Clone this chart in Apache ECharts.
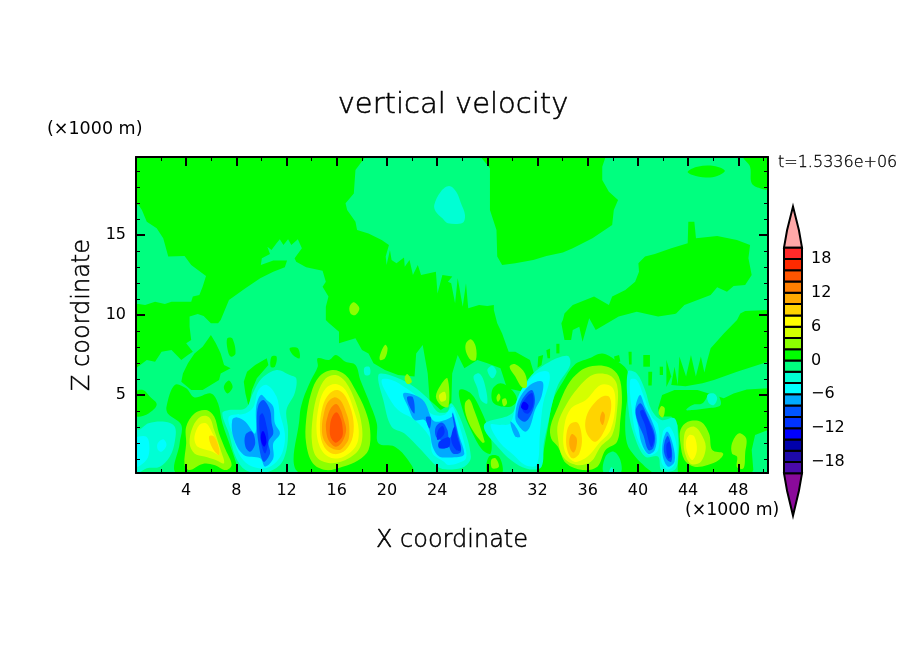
<!DOCTYPE html>
<html>
<head>
<meta charset="utf-8">
<script src="https://cdn.jsdelivr.net/npm/echarts@6/dist/echarts.min.js"></script>
<style>
html, body { margin: 0; background: #fff; }
#main { width: 904px; height: 654px; }
</style>
</head>
<body>
<div id="main"></div>
<script>
// colour bands of the contour plot
const bandLower = [-20, -18, -16, -14, -12, -10, -8, -6, -4, -2, 0, 2, 4, 6, 8, 10, 12, 14, 16, 18]
const bandColors = ['#4a0aaa', '#1e0aaa', '#0000aa', '#0000ff', '#0033ff', '#0055ff', '#00aaff', '#00ffff', '#00ffd4', '#00ff7f',
    '#00ff00', '#8cff00', '#d4ff00', '#ffff00', '#ffd400', '#ffaa00', '#ff7f00', '#ff5500', '#ff2a00', '#ff2a2a']
const overColor = '#ffa8a8'
const underColor = '#8a0a9a'
const barTicks = [-18, -12, -6, 0, 6, 12, 18]
const tipUp = [[0, 20], [0.17, 23.1], [0.5, 27.3], [0.83, 23.1], [1, 20]]
const tipDown = [[0, -20], [0.17, -23.1], [0.5, -27.5], [0.83, -23.1], [1, -20]]

const xMajor = [4, 8, 12, 16, 20, 24, 28, 32, 36, 40, 44, 48]
const xMinor = [2, 6, 10, 14, 18, 22, 26, 30, 34, 38, 42, 46, 50]
const zMajor = [5, 10, 15]
const zMinor = [1, 2, 3, 4, 6, 7, 8, 9, 11, 12, 13, 14, 16, 17, 18, 19]

// contour outlines, [x km, z km]
const background = [[0, 0.125], [50.37, 0.125], [50.37, 19.875], [0, 19.875]]
const springMain = [[18.27, 19.875], [50.37, 19.875], [50.37, 0.125], [0, 0.125], [0, 6.67], [0.86, 7.19], [1.52, 7.08], [2.04, 7.71], [2.83, 7.81], [3.61, 7.19], [4.14, 7.5], [4.53, 7.71], [4, 8.23], [4.4, 8.44], [4.27, 9.27], [4.27, 9.9], [4.92, 10.06], [5.39, 9.94], [5.97, 9.48], [6.54, 9.48], [6.75, 9.69], [7.41, 10.94], [8.72, 11.67], [9.9, 12.29], [10.94, 12.71], [11.86, 12.98], [12.04, 13.4], [10.94, 13.4], [9.95, 13.13], [10.03, 13.54], [10.68, 13.81], [10.47, 14.27], [10.8, 14.06], [11.2, 14.48], [11.46, 14.73], [11.75, 14.38], [12.12, 14.73], [12.38, 14.38], [12.9, 14.73], [13.22, 14.17], [12.64, 13.54], [12.77, 13.33], [13.56, 12.98], [14.87, 12.77], [15.13, 12.08], [14.87, 11.77], [15.34, 11.15], [15.13, 10.52], [15.13, 9.69], [15.39, 9.48], [16.18, 8.96], [16.18, 8.23], [17.49, 8.54], [18.01, 7.81], [18.53, 7.6], [18.93, 6.98], [19.84, 6.56], [20.89, 6.25], [22.2, 6.15], [22.33, 7.6], [22.85, 8.13], [23.25, 6.35], [23.4, 4.69], [24.29, 4.06], [25.13, 4.48], [25.2, 6.35], [25.64, 7.5], [26.17, 6.67], [27.21, 7.19], [28, 6.98], [29.05, 6.67], [29.57, 5.42], [30.88, 5.21], [31.72, 6.35], [31.4, 7.19], [30.23, 7.71], [29.7, 7.71], [29.18, 8.85], [28.79, 9.48], [28.52, 10.31], [28.52, 10.63], [28, 10.56], [27.34, 10.63], [26.48, 10.42], [26.3, 11.98], [26.04, 10.52], [25.64, 12.29], [25.43, 10.73], [25.12, 11.98], [24.86, 12.08], [25.21, 12.4], [24.42, 12.5], [24.03, 11.35], [23.9, 12.71], [22.72, 12.5], [22.46, 13.13], [22.07, 12.5], [21.8, 13.44], [21.42, 13.02], [21.36, 13.6], [20.76, 13.23], [20.37, 13.44], [20.24, 14.06], [19.97, 13.13], [19.9, 13.65], [20.16, 14.38], [19.58, 14.69], [18.53, 15.1], [17.62, 15.31], [17.49, 15.83], [16.83, 16.56], [16.7, 16.98], [17.36, 17.6], [17.49, 19.06]]
const springLeft = [[0, 16.9], [0.21, 16.88], [0.47, 16.56], [0.86, 15.83], [1.65, 15.42], [2.17, 14.79], [2.57, 13.65], [3.87, 13.69], [4.4, 13.13], [5.58, 12.44], [5.31, 11.77], [5.05, 11.25], [4.53, 11.15], [4.4, 10.83], [2.83, 10.83], [2.3, 10.69], [1.52, 10.83], [0.73, 10.63], [0.21, 10.69], [0, 10.69]]
const greenTop = [[27.48, 19.875], [28.21, 19.17], [28.21, 16.56], [28.73, 15.31], [28.79, 13.65], [29.18, 13.13], [30.23, 13.23], [31.66, 13.44], [32.71, 13.69], [34.02, 13.9], [34.81, 14.17], [36.38, 14.79], [37.95, 15.63], [38.08, 16.56], [38.42, 17.19], [37.69, 17.71], [37.16, 18.44], [37.16, 19.27], [37.42, 19.875]]
const greenCorner = [[48.42, 19.875], [48.94, 19.27], [49.07, 18.23], [49.73, 17.92], [50.37, 17.9], [50.37, 19.875]]
const greenOval = [[43.97, 18.96], [44.75, 19.27], [46.06, 19.31], [46.93, 19.02], [46.32, 18.69], [45.41, 18.6], [44.36, 18.75]]
const greenRight = [[34.02, 9.69], [34.15, 10.1], [34.81, 10.63], [35.46, 10.83], [36.51, 11.15], [37.69, 10.63], [37.95, 11.15], [39, 11.56], [39.78, 12.08], [40.09, 12.71], [40.04, 13.23], [40.57, 13.65], [41.35, 13.81], [42.66, 14.17], [43.97, 14.48], [44.02, 15.83], [44.5, 15.83], [44.63, 14.79], [46.32, 14.94], [47.89, 14.69], [48.94, 14.38], [48.81, 13.54], [49.07, 12.5], [48.55, 11.88], [47.63, 11.81], [47.1, 11.46], [46.32, 11.73], [45.8, 11.25], [43.71, 10.63], [43.05, 10.1], [42.92, 10.06], [41.61, 9.9], [39.91, 10.21], [38.47, 9.9], [36.64, 9.06], [36.12, 9.79], [35.59, 8.33], [35.33, 9.27], [34.81, 9.06], [34.68, 8.44], [34.15, 8.44], [33.9, 9.48]]
const greenEdge = [[50.37, 10.31], [48.55, 10.25], [48.16, 10.1], [47.9, 9.69], [46.85, 8.85], [45.8, 7.92], [45.54, 7.19], [45.3, 6.4], [45.02, 7.4], [44.62, 6.15], [44.23, 7.5], [43.84, 6.15], [43.31, 7.4], [43.18, 5.63], [42.92, 6.77], [42.66, 5.63], [43.8, 5.55], [45.15, 5.73], [46.06, 5.94], [47.9, 6.46], [50.37, 7.08]]
const greenLower = [[41.61, 4.17], [41.93, 5], [42.92, 5.31], [44.75, 5.31], [46.85, 4.79], [47.63, 5.1], [48.68, 5.35], [50.37, 5.42], [50.37, 2.81], [49.34, 2.5], [49.07, 1.56], [49.2, 0.31], [49.07, 0.125], [43.18, 0.125], [43.18, 0.52], [43.31, 1.98], [43.18, 3.13], [42.66, 3.65], [41.74, 3.65]]
const ringA = [[3.22, 0.125], [3.48, 1.98], [3.61, 3.13], [2.57, 3.81], [2.43, 4.27], [3.09, 5.63], [4, 5.42], [4.66, 4.85], [5.97, 5.1], [6.54, 4.48], [6.88, 3.23], [7.54, 1.77], [8.06, 0.52], [8.06, 0.125]]
const patchEdge = [[0, 5.2], [0.6, 5.3], [1.1, 4.9], [1.65, 4.4], [1, 3.85], [0, 3.7]]
const patchWiggle = [[3.74, 6.35], [4.14, 6.98], [4.66, 7.6], [5.31, 8.02], [5.97, 8.75], [6.36, 8.23], [6.75, 7.6], [7.02, 6.88], [7.54, 6.67], [6.75, 6.35], [6.62, 5.94], [5.31, 5.31], [4.4, 5.31], [3.61, 5.83]]
const patchStripe = [[7.28, 8.54], [7.67, 8.54], [7.93, 7.6], [7.54, 7.4], [7.28, 7.92]]
const patchDot = [[7, 5.5], [7.4, 5.9], [7.7, 5.5], [7.3, 5.1]]
const patchGully = [[8.59, 5.83], [8.85, 6.46], [9.5, 6.88], [10.42, 7.29], [10.55, 6.88], [9.63, 6.04], [9.24, 5.31], [8.98, 4.27], [8.72, 5.1]]
const patchSmallA = [[12.25, 7.92], [12.9, 7.92], [13.04, 7.29], [12.51, 7.5]]
const patchSmallB = [[10.81, 7.4], [11.2, 7.4], [11.07, 6.77], [10.73, 6.77]]
const ringB = [[13.04, 0.125], [13.04, 3.65], [13.3, 4.69], [13.95, 5.94], [14.48, 6.77], [14.48, 7.29], [15.39, 7.19], [15.92, 7.5], [16.7, 7.08], [17.49, 6.88], [17.88, 5.94], [18.53, 4.69], [19.19, 3.23], [19.32, 1.98], [20.63, 1.77], [21.68, 0.94], [22.07, 0.125]]
const ringC = [[32.19, 0.125], [32.45, 1.35], [32.84, 3.02], [33.24, 4.69], [34.02, 5.83], [34.94, 6.88], [36.12, 7.29], [37.16, 7.6], [38.21, 7.19], [39.13, 6.56], [39.26, 5.52], [39, 3.65], [39.13, 1.98], [39.78, 1.15], [40.57, 0.52], [41.09, 0.125]]
const ringD = [[25.77, 5.31], [26.69, 5.1], [27.48, 4.06], [28.26, 2.4], [28.26, 1.35], [27.61, 1.56], [26.69, 2.81], [26.04, 4.06]]
const ringE = [[28, 0.125], [28.13, 1.15], [28.92, 1.15], [29.18, 0.125]]
const ringF = [[28.39, 5.31], [29.05, 5.73], [29.96, 5.31], [30.36, 4.69], [29.83, 4.27], [28.52, 4.48]]
const spikes = [
    [[32.06, 7.4], [32.45, 7.5], [32.32, 6.88], [32, 6.7]],
    [[32.7, 7.8], [33, 7.9], [33, 7.3], [32.8, 7.3]],
    [[33.5, 8.2], [33.75, 8.2], [33.75, 7.6], [33.5, 7.6]],
    [[38.1, 7.4], [38.5, 7.5], [38.6, 7.1], [38.2, 7]],
    [[39.25, 7.7], [39.5, 7.7], [39.5, 6.9], [39.3, 6.9]],
    [[40.43, 7.5], [40.96, 7.5], [40.96, 6.77], [40.43, 6.77]],
    [[40.83, 6.46], [41.14, 6.46], [41.1, 5.6], [40.83, 5.6]],
    [[41.74, 6.77], [42, 6.77], [42, 6.25], [41.74, 6.25]],
    [[42.27, 7.2], [42.66, 6.15], [42.27, 5.5]]
]
const springInC = [[37.29, 0.125], [37.42, 1.15], [38.08, 1.46], [38.6, 0.94], [38.6, 0.125]]
const springPatch = [[43.84, 4.06], [44.36, 4.38], [45.15, 4.48], [45.8, 5.21], [46.32, 5.1], [46.59, 4.38], [45.54, 4.17], [44.36, 4.06]]

// level -3 (aqua) regions
const aquaTop = [[23.77, 16.88], [24.29, 17.71], [24.95, 18.06], [25.52, 17.71], [25.9, 16.98], [26.22, 16.25], [26.04, 15.77], [24.86, 15.73], [24.42, 16.04], [23.9, 16.46]]
const aquaDots = [
    [[45.54, 5], [46.06, 5.1], [46.32, 4.79], [46.06, 4.38], [45.67, 4.48]],
    [[28, 6.56], [28.39, 6.83], [28.73, 6.46], [28.39, 6.04]],
    [[26.9, 6.15], [27.35, 6.35], [27.74, 5.83], [28, 4.48], [27.48, 4.69], [27.21, 5.42]],
    [[18.2, 6.7], [18.6, 6.75], [18.65, 6.3], [18.25, 6.25]],
    [[37.7, 0.125], [37.9, 0.5], [38.1, 0.125]]
]
const aquaA = [[0, 0.125], [0, 3], [0.21, 2.81], [1, 3.23], [2.3, 3.33], [3.09, 3.02], [3.09, 2.08], [2.7, 1.15], [1.91, 0.52], [0.86, 0.42], [0.21, 0.125]]
const aquaB = [[6.88, 3.85], [7.41, 4.06], [8.72, 4.17], [9.37, 5.21], [10.03, 6.04], [11.2, 6.56], [12.25, 6.25], [12.77, 6.04], [12.64, 5.1], [11.99, 4.06], [12.12, 2.81], [11.99, 1.56], [11.47, 0.63], [10.16, 0.125], [8.72, 0.31], [7.93, 1.15], [7.41, 2.6]]
const aquaC = [[19.32, 6.25], [20.2, 6.25], [21.94, 5.63], [23.25, 4.79], [24.03, 3.96], [24.82, 3.96], [25.12, 4.48], [25.9, 3.44], [26.69, 1.15], [26.17, 0.52], [24.86, 0.35], [24.03, 0.52], [22.73, 1.56], [21.4, 2.6], [20.37, 3.02], [19.71, 4.69]]
const aquaD = [[27.74, 3.13], [29.96, 3.85], [30.62, 5.1], [31.53, 6.25], [32.97, 7.08], [34.41, 7.44], [34.6, 6.88], [33.63, 5.63], [33.18, 4.48], [32.84, 3.23], [32.5, 1.98], [32.32, 0.52], [31.4, 0.35], [30.23, 0.73], [29.05, 1.56]]
const aquaE = [[39.2, 6.46], [39.91, 6.35], [40.57, 5.31], [41.09, 4.06], [41.87, 3.44], [42.92, 3.54], [43.18, 2.6], [43.18, 0.94], [42.92, 0.31], [41.87, 0.31], [41.61, 1.15], [40.57, 1.15], [39.65, 2.6], [39.26, 4.06]]

// level -5 (cyan) regions
const cyanA = [[0, 2.3], [0.21, 2.4], [0.8, 2.4], [1.05, 1.98], [0.95, 1.1], [0.34, 0.6], [0, 0.55]]
const cyanDot = [[1.73, 1.98], [2.17, 2.23], [2.43, 1.88], [2.04, 1.46], [1.73, 1.6]]
const cyanB = [[7.41, 3.65], [8.72, 3.85], [9.37, 4.27], [9.76, 5.31], [10.42, 5.63], [11.2, 4.9], [11.47, 3.85], [11.86, 2.6], [11.73, 1.56], [11.2, 0.83], [10.29, 0.42], [9, 0.63], [8.19, 1.35], [7.67, 2.6]]
const cyanC = [[19.58, 5.94], [20.37, 5.94], [21.55, 5.42], [22.72, 4.69], [23.51, 3.85], [24.55, 3.75], [25.2, 4.27], [25.38, 4.06], [26.17, 1.98], [26.3, 1.04], [25.64, 0.73], [24.86, 0.63], [24.55, 0.83], [23.64, 1.35], [23.38, 2.4], [22.2, 3.44], [20.89, 4.06], [19.97, 5.1]]
const cyanD = [[28.26, 3.13], [29.05, 3.13], [29.83, 3.23], [30.36, 4.69], [30.88, 5.52], [31.93, 6.35], [32.84, 6.46], [32.97, 5.94], [32.45, 4.48], [32.19, 2.6], [31.93, 0.63], [31.01, 0.63], [30.09, 1.25], [29.05, 1.98]]
const cyanE = [[39.39, 5.94], [39.91, 5.94], [40.43, 5], [41.09, 3.65], [41.61, 3.13], [41.61, 1.56], [40.83, 1.25], [39.91, 2.4], [39.52, 4.06]]
const cyanF = [[41.99, 2.71], [42.53, 3.02], [43.05, 1.98], [42.97, 0.73], [42.4, 0.35], [41.87, 0.83]]

// level -7
const skyB = [[7.67, 3.44], [8.06, 3.6], [8.72, 3.33], [9.5, 2.6], [9.58, 4.27], [9.95, 5], [10.42, 4.69], [10.94, 4.27], [11.07, 3.23], [11.47, 2.6], [10.94, 1.98], [10.94, 1.04], [10.29, 0.52], [9.9, 1.04], [8.59, 1.25], [7.78, 2.29]]
const skyC = [[21.3, 5.1], [22.2, 5], [22.98, 4.58], [23.64, 3.44], [24.16, 3.33], [25.2, 3.65], [25.25, 3.96], [25.77, 2.4], [26.17, 1.35], [25.9, 1.15], [24.86, 1.1], [24.16, 1.15], [23.64, 1.77], [23.38, 2.81], [22.98, 3.44], [22.2, 3.44], [21.68, 4.27]]
const skyD = [[30.23, 3.65], [30.49, 4.69], [31.4, 5.63], [32.39, 5.83], [32.32, 4.9], [31.8, 4.06], [31.4, 3.02], [31.01, 2.71], [30.36, 3.23]]
const skyStrip = [[29.83, 3.33], [30.2, 3.1], [30.62, 2.4], [30.23, 2.4]]
const skyE = [[39.78, 4.06], [40.17, 5], [40.57, 4.27], [41.09, 3.44], [41.48, 2.5], [41.35, 1.56], [40.83, 1.31], [40.3, 1.98], [40.04, 3.02]]
const skyF = [[41.99, 2.08], [42.35, 2.71], [42.8, 1.88], [42.92, 0.83], [42.4, 0.52], [41.99, 1.15]]

// level -9
const blueB1 = [[8.72, 2.5], [9.24, 2.71], [9.5, 1.98], [9.11, 1.46], [8.72, 1.77]]
const blueB2 = [[9.63, 3.44], [9.76, 4.38], [10.16, 4.69], [10.68, 4.06], [10.81, 3.23], [10.94, 2.6], [10.55, 2.08], [10.68, 1.35], [10.16, 0.83], [9.76, 1.98]]
const blueC1 = [[21.6, 4.85], [22.07, 4.85], [22.2, 3.85], [21.94, 4.06]]
const blueC2 = [[23.9, 3.02], [24.42, 3.27], [24.82, 2.81], [24.95, 2.29], [25.34, 2.81], [25.2, 3.85], [25.25, 3.85], [25.64, 2.6], [25.9, 1.46], [25.25, 1.35], [24.86, 1.98], [24.95, 1.77], [24.16, 1.67], [24.42, 2.08], [23.9, 2.4]]
const blueC3 = [[23.1, 3.6], [23.5, 3.6], [23.4, 2.9]]
const blueD = [[30.43, 3.85], [30.75, 4.69], [31.53, 5.31], [31.8, 4.69], [31.53, 3.85], [31.01, 3.33], [30.49, 3.56]]
const blueE = [[39.83, 4.06], [40.22, 4.48], [40.83, 3.54], [41.35, 2.5], [41.22, 1.67], [40.83, 1.56], [40.43, 2.5], [39.99, 3.33]]
const blueF = [[42.14, 2.08], [42.4, 2.44], [42.71, 1.56], [42.66, 0.83], [42.35, 0.94], [42.08, 1.46]]

// level -11, -13
const deepB = [[9.84, 3.65], [10.1, 3.85], [10.42, 3.02], [10.55, 2.19], [10.29, 1.35], [9.95, 2.08]]
const deepC1 = [[24.03, 2.71], [24.42, 3.06], [24.6, 2.71], [24.42, 2.4], [24.03, 2.19]]
const deepC2 = [[24.16, 2.08], [24.95, 2.35], [24.95, 1.77], [24.16, 1.7]]
const deepC3 = [[25.38, 3.02], [25.64, 2.29], [25.9, 1.56], [25.51, 1.56], [25.12, 2.2]]
const deepD = [[30.75, 4.38], [31.27, 5], [31.6, 5.1], [31.66, 4.38], [31.27, 3.85], [30.88, 3.96]]
const deepE = [[40.17, 3.96], [40.43, 4.06], [41.09, 2.92], [41.3, 2.29], [41.09, 1.73], [40.88, 2.08], [40.57, 3.13]]
const deepF = [[42.27, 1.88], [42.53, 2.08], [42.66, 1.15], [42.4, 1.04]]
const coreB = [[10.03, 2.71], [10.2, 2.71], [10.4, 2.08], [10.2, 1.77], [9.95, 2.2]]
const coreD = [[30.88, 4.58], [31.27, 4.38], [31.14, 4.06], [30.7, 4.2]]

// level 3 (lime)
const limeA = [[3.87, 0.63], [4, 1.98], [4, 3.02], [4.66, 3.85], [5.58, 4.06], [6.23, 3.65], [6.62, 2.6], [7.15, 1.56], [7.62, 0.63], [7.15, 0.31], [6.23, 0.63], [5.31, 0.69], [4.27, 0.31]]
const limeB = [[13.56, 1.98], [13.56, 3.44], [13.95, 5.1], [14.61, 6.15], [15.65, 6.56], [16.7, 6.25], [17.49, 5.31], [18.27, 4.06], [18.66, 2.81], [18.53, 1.56], [17.75, 0.94], [16.47, 0.52], [15.13, 0.31], [14.09, 0.73]]
const limeC = [[33.03, 3.02], [33.63, 4.27], [34.41, 5.63], [35.33, 6.46], [36.38, 6.81], [37.69, 6.73], [38.47, 6.15], [38.73, 4.9], [38.6, 3.44], [38.34, 2.08], [37.42, 1.56], [36.77, 0.52], [35.59, 0.31], [34.28, 0.73], [33.63, 1.77], [33.1, 2.27]]
const limeG = [[43.39, 1.98], [43.39, 2.81], [43.97, 3.33], [45.02, 3.33], [45.67, 2.6], [45.93, 1.56], [46.79, 1.35], [46.45, 0.94], [45.56, 0.63], [44.5, 0.52], [43.71, 0.94]]
const limeSpots = [
    [[47.5, 1.98], [48.03, 2.6], [48.63, 2.29], [48.55, 1.35], [48.42, 0.42], [47.9, 0.48], [47.9, 1.15], [47.5, 1.35]],
    [[41.66, 3.85], [41.87, 4.31], [42.14, 4.17], [42, 3.6]],
    [[26.3, 8.23], [26.69, 8.48], [27.08, 8.02], [27.08, 7.19], [26.69, 7.19], [26.3, 7.71]],
    [[29.78, 6.77], [30.23, 6.92], [31, 6.35], [31.14, 5.52], [30.75, 5.48], [30.23, 6.15]],
    [[28.73, 4.85], [28.92, 5.1], [29.05, 4.85], [28.85, 4.58]],
    [[29.18, 4.69], [29.44, 4.79], [29.57, 4.48], [29.31, 4.3]],
    [[26.22, 4.48], [26.56, 4.73], [26.95, 4.06], [27.79, 2.08], [27.61, 2.02], [26.82, 2.81], [26.3, 3.75]],
    [[28.31, 0.94], [28.65, 1.04], [28.92, 0.52], [28.39, 0.42]],
    [[17.02, 10.52], [17.36, 10.79], [17.8, 10.42], [17.49, 10], [17.1, 10.1]],
    [[19.45, 7.5], [19.84, 8.13], [20.05, 7.92], [19.84, 7.29], [19.45, 7.19]],
    [[21.41, 6.04], [21.62, 6.31], [21.99, 5.83], [21.62, 5.69]],
    [[23.9, 4.9], [24.29, 5.63], [24.82, 6.04], [24.9, 4.27], [24.29, 4.38]]
]
// level 5
const citronA = [[4.27, 1.98], [4.53, 3.02], [5.18, 3.65], [5.84, 3.6], [6.23, 2.81], [6.75, 1.56], [7.02, 0.73], [6.36, 0.94], [5.45, 1.15], [4.66, 1.35]]
const citronB = [[14.03, 1.98], [14.09, 3.65], [14.48, 5.1], [15.13, 6.04], [15.92, 6.25], [16.7, 5.83], [17.49, 4.58], [18.01, 3.02], [17.88, 1.77], [16.96, 1.04], [15.65, 0.73], [14.48, 1.04]]
const citronC = [[33.63, 3.23], [34.28, 4.38], [35.2, 5.42], [36.38, 6.25], [37.69, 6.25], [38.34, 5.63], [38.34, 4.06], [37.95, 2.5], [37.03, 1.77], [36.25, 0.83], [35.07, 0.63], [34.02, 1.15], [33.63, 2.29]]
const citronG = [[43.65, 2.08], [43.84, 2.81], [44.5, 3.02], [45.02, 2.6], [45.41, 1.77], [45.02, 0.83], [44.23, 0.69], [43.76, 1.35]]
const citronH = [[24.16, 5], [24.6, 5.2], [24.7, 4.7], [24.3, 4.6]]
// level 7
const yellowA = [[4.66, 2.4], [5.05, 3.13], [5.58, 3.23], [6.1, 2.6], [6.62, 1.77], [6.62, 1.25], [6.1, 1.46], [5.18, 1.67], [4.79, 1.88]]
const yellowB = [[14.4, 2.6], [14.61, 4.48], [15.13, 5.42], [15.92, 5.69], [16.7, 5.31], [17.36, 4.06], [17.75, 2.81], [17.49, 1.77], [16.18, 1.04], [14.99, 1.35]]
const yellowC = [[34.15, 3.13], [34.68, 4.17], [35.85, 4.69], [37.03, 5.63], [37.95, 5.48], [38.21, 4.48], [37.82, 2.81], [36.9, 1.98], [35.99, 1.15], [34.94, 0.83], [34.15, 1.56]]
const yellowG = [[43.84, 2.08], [44.1, 2.5], [44.5, 2.4], [44.7, 1.56], [44.36, 0.94], [43.97, 1.35]]
// level 9
const goldA = [[5.84, 2.44], [6.23, 2.4], [6.62, 1.67], [6.62, 1.25], [6.23, 1.52], [5.92, 1.98]]
const goldB = [[14.66, 2.81], [14.87, 4.27], [15.39, 5.06], [16.05, 5.31], [16.7, 4.9], [17.28, 3.65], [17.28, 2.4], [16.7, 1.56], [15.78, 1.31], [14.99, 1.77]]
const goldC1 = [[34.28, 2.29], [34.54, 3.13], [35.2, 3.27], [35.54, 2.29], [35.33, 1.35], [34.81, 1.04], [34.41, 1.46]]
const goldC2 = [[35.8, 3.23], [36.12, 4.06], [37.03, 4.85], [37.69, 4.9], [37.87, 4.17], [37.42, 2.92], [36.64, 2.08], [35.99, 2.5]]
// level 11, 13, 15
const amberB = [[14.82, 3.02], [14.95, 3.75], [15.25, 4.5], [15.78, 4.85], [16.3, 4.65], [16.7, 4], [16.96, 3.3], [16.96, 2.29], [16.6, 1.8], [16.18, 1.56], [15.39, 1.77], [14.92, 2.29]]
const amberC1 = [[34.54, 2.19], [34.75, 2.56], [35.12, 2.29], [35.07, 1.67], [34.86, 1.4], [34.6, 1.67]]
const amberC2 = [[36.98, 3.44], [37.16, 3.96], [37.37, 3.75], [37.21, 3.13]]
const orangeB = [[15.13, 3.02], [15.25, 3.6], [15.55, 4.2], [15.97, 4.44], [16.3, 4.1], [16.55, 3.5], [16.75, 2.81], [16.44, 2.08], [15.92, 1.77], [15.34, 2.19]]
const flameB = [[15.47, 3.13], [15.62, 3.6], [15.97, 3.92], [16.28, 3.6], [16.44, 3.13], [16.44, 2.4], [15.92, 2.02], [15.5, 2.4]]

// drawing order: [level, outline, jagged]; later ones paint over earlier ones
const layers = [
    [1, background, 1], [-1, springMain, 1], [-1, springLeft, 1],
    [1, greenTop, 1], [1, greenCorner, 0], [1, greenOval, 0], [1, greenRight, 1], [1, greenEdge, 1], [1, greenLower, 1],
    [1, ringA, 0], [1, patchEdge, 0], [1, patchWiggle, 1], [1, patchStripe, 0], [1, patchDot, 0], [1, patchGully, 1], [1, patchSmallA, 0], [1, patchSmallB, 0],
    [1, ringB, 0], [1, ringC, 0], [1, ringD, 0], [1, ringE, 0], [1, ringF, 0],
    ...spikes.map(s => [1, s, 1]),
    [-1, springInC, 0], [-1, springPatch, 0],
    [-3, aquaTop, 0], ...aquaDots.map(s => [-3, s, 0]),
    [-3, aquaA, 0], [-3, aquaB, 0], [-3, aquaC, 0], [-3, aquaD, 0], [-3, aquaE, 0],
    [-5, cyanA, 0], [-5, cyanDot, 0], [-5, cyanB, 0], [-5, cyanC, 0], [-5, cyanD, 0], [-5, cyanE, 0], [-5, cyanF, 0],
    [-7, skyB, 0], [-7, skyC, 0], [-7, skyD, 0], [-7, skyStrip, 0], [-7, skyE, 0], [-7, skyF, 0],
    [-9, blueB1, 0], [-9, blueB2, 0], [-9, blueC1, 0], [-9, blueC2, 0], [-9, blueC3, 0], [-9, blueD, 0], [-9, blueE, 0], [-9, blueF, 0],
    [-11, deepB, 0], [-11, deepC1, 0], [-11, deepC2, 0], [-11, deepC3, 0], [-11, deepD, 0], [-11, deepE, 0], [-11, deepF, 0],
    [-13, coreB, 0], [-13, coreD, 0],
    [3, limeA, 0], [3, limeB, 0], [3, limeC, 0], [3, limeG, 0], ...limeSpots.map(s => [3, s, 0]),
    [5, citronA, 0], [5, citronB, 0], [5, citronC, 0], [5, citronG, 0], [5, citronH, 0],
    [7, yellowA, 0], [7, yellowB, 0], [7, yellowC, 0], [7, yellowG, 0],
    [9, goldA, 0], [9, goldB, 0], [9, goldC1, 0], [9, goldC2, 0],
    [11, amberB, 0], [11, amberC1, 0], [11, amberC2, 0],
    [13, orangeB, 0], [15, flameB, 0]
]

function levelColor(v) {
    let i = bandLower.findIndex((lo) => v >= lo && v < lo + 2)
    return bandColors[i]
}

function renderContour(params, api) {
    const layer = layers[params.dataIndex]
    return {
        type: 'polygon',
        shape: {
            points: layer[1].map(p => api.coord(p)),
            smooth: layer[2] ? 0 : 0.35
        },
        style: { fill: levelColor(layer[0]), stroke: null }
    }
}

function renderBar(params, api) {
    const lo = bandLower[params.dataIndex]
    const a = api.coord([0, lo + 2])
    const b = api.coord([1, lo])
    return {
        type: 'rect',
        shape: { x: a[0], y: a[1], width: b[0] - a[0], height: b[1] - a[1] },
        style: { fill: bandColors[params.dataIndex], stroke: '#000', lineWidth: 2 }
    }
}

function renderTip(params, api) {
    const up = params.dataIndex === 0
    return {
        type: 'polygon',
        shape: { points: (up ? tipUp : tipDown).map(p => api.coord(p)) },
        style: { fill: up ? overColor : underColor, stroke: '#000', lineWidth: 2 }
    }
}

const FONT = '"DejaVu Sans"'
const THIN = '"DejaVu Sans Light", "DejaVu Sans ExtraLight", "DejaVu Sans"'

// one pair of framed axes per grid, ticks pointing inwards
function frameAxis(pos, grid, min, max, ticks, len, width, labels) {
    return {
        type: 'value', position: pos, gridIndex: grid, min, max, z: 5,
        splitLine: { show: false },
        axisLine: { show: grid === 0, onZero: false, lineStyle: { color: '#000', width: 2 } },
        axisTick: { show: true, inside: true, length: len, customValues: ticks, lineStyle: { color: '#000', width } },
        axisLabel: labels
            ? { show: true, customValues: labels, color: '#000', fontFamily: FONT, fontSize: 16, margin: 10 }
            : { show: false }
    }
}

const nameStyle = { color: '#000', fontFamily: THIN, fontSize: 24, textBorderColor: '#000', textBorderWidth: 0.5 }
const xBottom = frameAxis('bottom', 0, 0, 50.37, xMajor, 9, 2, xMajor)
xBottom.name = 'X coordinate'
xBottom.nameLocation = 'middle'
xBottom.nameGap = 56
xBottom.nameTextStyle = nameStyle
const zLeft = frameAxis('left', 0, 0.125, 19.875, zMajor, 9, 2, zMajor)
zLeft.name = 'Z coordinate'
zLeft.nameLocation = 'middle'
zLeft.nameGap = 39
zLeft.nameTextStyle = nameStyle

const plotRect = { left: 136, top: 157, width: 632, height: 316, outerBoundsMode: 'none' }

const option = {
    animation: false,
    backgroundColor: '#fff',
    graphic: [
        { type: 'text', x: 453, y: 105, style: { text: 'vertical velocity', fill: '#000', stroke: '#000', lineWidth: 0.5, font: '29px ' + THIN, align: 'center', verticalAlign: 'middle' } },
        { type: 'text', x: 47, y: 129, style: { text: '(×1000 m)', fill: '#000', font: '17.5px ' + FONT, verticalAlign: 'middle' } },
        { type: 'text', x: 685, y: 511, style: { text: '(×1000 m)', fill: '#000', font: '17.3px ' + FONT, verticalAlign: 'middle' } },
        { type: 'text', x: 778, y: 163, style: { text: 't=1.5336e+06', fill: '#000', stroke: '#000', lineWidth: 0.3, font: '16px ' + THIN, verticalAlign: 'middle' } }
    ],
    grid: [
        plotRect,
        plotRect,
        { left: 784, top: 191.3, width: 18, height: 338.4, outerBoundsMode: 'none' }
    ],
    xAxis: [
        xBottom,
        frameAxis('top', 0, 0, 50.37, xMajor, 9, 2),
        frameAxis('bottom', 1, 0, 50.37, xMinor, 4, 1),
        frameAxis('top', 1, 0, 50.37, xMinor, 4, 1),
        { type: 'value', gridIndex: 2, min: 0, max: 1, show: false }
    ],
    yAxis: [
        zLeft,
        frameAxis('right', 0, 0.125, 19.875, zMajor, 9, 2),
        frameAxis('left', 1, 0.125, 19.875, zMinor, 4, 1),
        frameAxis('right', 1, 0.125, 19.875, zMinor, 4, 1),
        {
            type: 'value', gridIndex: 2, position: 'right', min: -30, max: 30,
            splitLine: { show: false }, axisLine: { show: false }, axisTick: { show: false },
            axisLabel: {
                customValues: barTicks, color: '#000', fontFamily: FONT, fontSize: 16, margin: 9,
                formatter: v => String(v).replace('-', '\u2212')
            }
        }
    ],
    series: [
        {
            type: 'custom', xAxisIndex: 0, yAxisIndex: 0, clip: true, z: 1, silent: true,
            data: layers.map((l, i) => [i]),
            encode: { x: -1, y: -1 },
            renderItem: renderContour
        },
        {
            type: 'custom', xAxisIndex: 4, yAxisIndex: 4, z: 2, silent: true,
            data: bandLower.map((lo, i) => [i]),
            encode: { x: -1, y: -1 },
            renderItem: renderBar
        },
        {
            type: 'custom', xAxisIndex: 4, yAxisIndex: 4, z: 1, silent: true,
            data: [[0], [1]],
            encode: { x: -1, y: -1 },
            renderItem: renderTip
        }
    ]
}

const myChart = echarts.init(document.getElementById('main'))
myChart.setOption(option)
</script>
</body>
</html>
